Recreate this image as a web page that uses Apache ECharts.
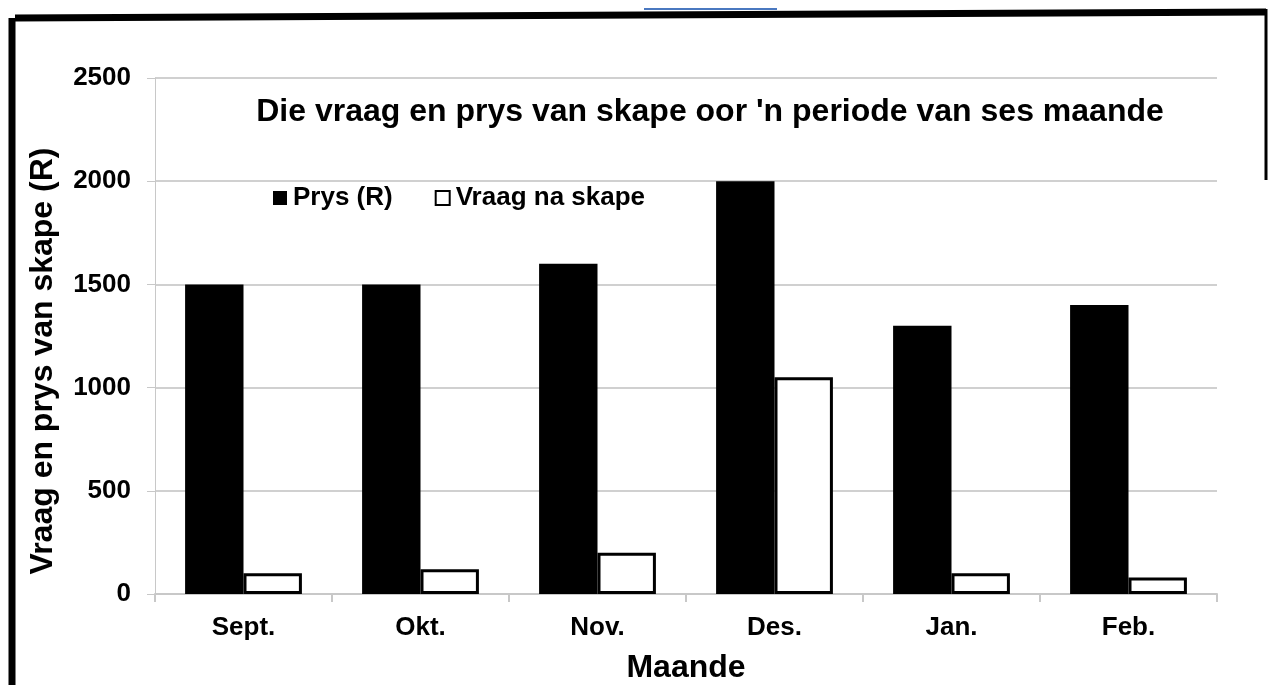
<!DOCTYPE html>
<html>
<head>
<meta charset="utf-8">
<script src="https://cdn.jsdelivr.net/npm/echarts@6/dist/echarts.min.js"></script>
<style>
  html, body { margin: 0; padding: 0; background: #fff; }
  #main { width: 1268px; height: 685px; }
</style>
</head>
<body>
<div id="main"></div>
<script>
// maande en waardes
var maande = ["Sept.", "Okt.", "Nov.", "Des.", "Jan.", "Feb."];
var prys = [1500, 1500, 1600, 2000, 1300, 1400];
var vraag = [100, 120, 200, 1050, 100, 80];
var yTicks = [0, 500, 1000, 1500, 2000, 2500];

var font = "'Liberation Sans', Arial, sans-serif";
var myChart = echarts.init(document.getElementById("main"));

var option = {
  animation: false,
  backgroundColor: "#fff",
  textStyle: { fontFamily: font },
  title: {
    text: "Die vraag en prys van skape oor 'n periode van ses maande",
    left: 705,
    textAlign: "center",
    top: 91,
    textStyle: { fontSize: 32, fontWeight: "bold", color: "#000", fontFamily: font },
  },
  legend: {
    left: 268,
    top: 180,
    itemWidth: 14,
    itemHeight: 14,
    itemGap: 42,
    textStyle: { fontSize: 26, fontWeight: "bold", color: "#000", fontFamily: font, padding: [0, 0, 0, 1] },
    data: [
      { name: "Prys (R)", icon: "rect", itemStyle: { color: "#000", borderWidth: 0 } },
      { name: "Vraag na skape", icon: "rect", itemStyle: { color: "#fff", borderColor: "#000", borderWidth: 2 } },
    ],
  },
  grid: { left: 155, right: 51, top: 78, bottom: 91, outerBoundsMode: "none", containLabel: false },
  xAxis: {
    type: "category",
    data: maande,
    name: "Maande",
    nameLocation: "middle",
    nameGap: 58,
    nameTextStyle: { fontSize: 32, fontWeight: "bold", color: "#000", fontFamily: font },
    axisLine: { lineStyle: { color: "#c8c8c8", width: 2 } },
    axisTick: { show: true, length: 8, lineStyle: { color: "#c8c8c8", width: 2 } },
    axisLabel: { fontSize: 26, fontWeight: "bold", color: "#000", margin: 21, fontFamily: font },
  },
  yAxis: {
    type: "value",
    min: yTicks[0],
    max: yTicks[yTicks.length - 1],
    interval: 500,
    name: "Vraag en prys van skape (R)",
    nameLocation: "middle",
    nameGap: 96,
    nameTextStyle: { fontSize: 32, fontWeight: "bold", color: "#000", fontFamily: font, padding: [0, 50, 0, 0] },
    axisLine: { show: true, lineStyle: { color: "#c8c8c8", width: 1 } },
    axisTick: { show: true, length: 8, lineStyle: { color: "#c8c8c8" } },
    axisLabel: {
      fontSize: 26,
      fontWeight: "bold",
      color: "#000",
      margin: 24,
      fontFamily: font,
      formatter: function (v) { return String(v); },
    },
    splitLine: { lineStyle: { color: "#d0d0d0", width: 2 } },
  },
  series: [
    {
      name: "Prys (R)",
      type: "bar",
      data: prys,
      barWidth: "33%",
      barGap: "0%",
      itemStyle: { color: "#000" },
    },
    {
      name: "Vraag na skape",
      type: "bar",
      data: vraag,
      barWidth: "33%",
      itemStyle: { color: "#fff", borderColor: "#000", borderWidth: 3 },
    },
  ],
  graphic: [
    // raam om die grafiek
    { type: "line", shape: { x1: 15, y1: 18, x2: 1266, y2: 12 }, style: { stroke: "#000", lineWidth: 7 } },
    { type: "line", shape: { x1: 12, y1: 18, x2: 12, y2: 685 }, style: { stroke: "#000", lineWidth: 7 } },
    { type: "line", shape: { x1: 1266, y1: 9, x2: 1266, y2: 180 }, style: { stroke: "#000", lineWidth: 3 } },
    { type: "line", shape: { x1: 644, y1: 9, x2: 777, y2: 9 }, style: { stroke: "#4a78c0", lineWidth: 2 } },
  ],
};

myChart.setOption(option);
</script>
</body>
</html>
